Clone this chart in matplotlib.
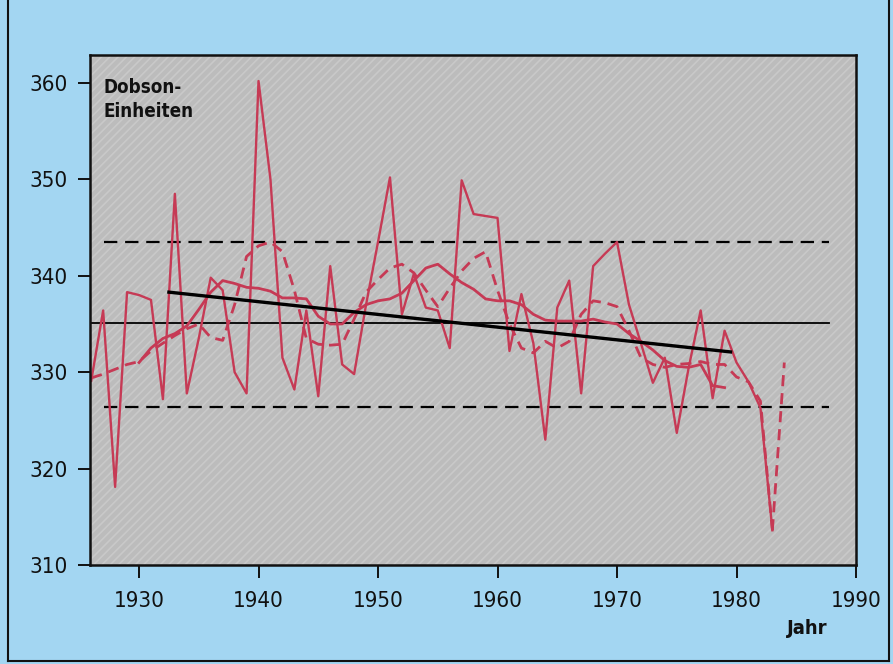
import matplotlib
matplotlib.use("Agg")
import matplotlib.pyplot as plt
from matplotlib.lines import Line2D

# Annual mean total ozone, Dobson units
years = list(range(1926, 1984))
annual = [329.1, 336.4, 318.1, 338.3, 338.0, 337.5, 327.2, 348.5, 327.8, 333.5,
          339.8, 338.5, 330.0, 327.8, 360.2, 350.0, 331.5, 328.2, 336.4, 327.5,
          341.0, 330.8, 329.8, 337.0, 343.5, 350.2, 336.0, 340.2, 336.7, 336.4,
          332.5, 349.9, 346.4, 346.2, 346.0, 332.2, 338.1, 333.0, 323.0, 336.7,
          339.5, 327.8, 341.0, 342.3, 343.5, 337.0, 333.0, 328.9, 331.5, 323.7,
          330.5, 336.4, 327.3, 334.3, 331.0, 329.0, 326.3, 313.6]

# Preliminary value after the last annual mean
prelim_years = [1983, 1984]
prelim_values = [313.6, 331.0]

# Short-term smoothed curve
short_years = list(range(1926, 1984))
short_smooth = [329.4, 329.8, 330.3, 330.8, 331.1, 332.2, 333.0, 333.8, 334.5, 335.0,
                333.6, 333.3, 337.0, 342.0, 343.1, 343.5, 342.5, 338.5, 333.5, 332.9,
                332.8, 332.9, 335.5, 338.3, 339.6, 340.8, 341.2, 340.3, 338.5, 336.8,
                338.7, 340.5, 341.8, 342.5, 338.5, 335.0, 332.5, 332.0, 333.2, 332.5,
                333.2, 336.0, 337.4, 337.2, 336.8, 334.3, 331.5, 330.8, 330.5, 330.8,
                330.9, 331.1, 330.8, 330.8, 329.5, 329.0, 327.0, 313.6]

# Long-term running mean
long_years = list(range(1930, 1980))
long_smooth = [331.0, 332.5, 333.5, 334.0, 334.8, 336.5, 338.3, 339.5, 339.2, 338.8,
               338.7, 338.4, 337.7, 337.7, 337.6, 335.8, 335.0, 335.0, 336.2, 337.0,
               337.4, 337.6, 338.2, 339.5, 340.8, 341.2, 340.2, 339.3, 338.6, 337.6,
               337.4, 337.4, 337.0, 336.0, 335.4, 335.3, 335.3, 335.3, 335.5, 335.2,
               335.0, 334.0, 333.2, 332.3, 331.2, 330.6, 330.5, 330.8, 328.6, 328.4]

# Linear trend
trend_years = [1932.5, 1979.5]
trend_values = [338.3, 332.1]

# Long-term mean and its band
mean_span = [1925.9, 1987.7]
mean_value = 335.1
band_span = [1927.1, 1987.7]
band_upper = 343.5
band_lower = 326.4

x_ticks = [1930, 1940, 1950, 1960, 1970, 1980, 1990]
y_ticks = [310, 320, 330, 340, 350, 360]

RED = "#c63a55"
BLUE = "#a3d6f2"
GREY = "#bcbcbc"

plt.rcParams["font.family"] = ["DejaVu Sans"]
plt.rcParams["font.stretch"] = "condensed"
plt.rcParams["hatch.color"] = "#c9c9c9"
plt.rcParams["hatch.linewidth"] = 1.2

fig = plt.figure(figsize=(8.93, 6.64), dpi=100)
fig.patch.set_facecolor(BLUE)
ax = fig.add_axes([0.1008, 0.1491, 0.8578, 0.7681])
ax.set_facecolor(GREY)
ax.patch.set_hatch("////")
ax.patch.set_edgecolor("#c9c9c9")

ax.set_xlim(1925.9, 1990)
ax.set_ylim(310, 362.9)

# reference lines
ax.plot(mean_span, [mean_value, mean_value], color="black", lw=1.3, zorder=2)
for v in (band_upper, band_lower):
    ax.plot(band_span, [v, v], color="black", lw=1.6, dashes=(6, 3.5), zorder=2)

# ozone curves
ax.plot(short_years, short_smooth, color=RED, lw=2.0, dashes=(4, 2.5), zorder=3)
ax.plot(long_years, long_smooth, color=RED, lw=2.0, zorder=3)
ax.plot(years, annual, color=RED, lw=1.7, zorder=4)
ax.plot(prelim_years, prelim_values, color=RED, lw=2.0, dashes=(4, 2.5), zorder=4)
ax.plot(trend_years, trend_values, color="black", lw=2.4, zorder=5)

for s in ax.spines.values():
    s.set_linewidth(1.8)
    s.set_color("#111111")
    s.set_zorder(6)

ax.set_xticks(x_ticks)
ax.set_yticks(y_ticks)
ax.tick_params(axis="x", direction="out", length=9, width=1.4, pad=10,
               labelsize=16, colors="#111111")
ax.tick_params(axis="y", direction="out", length=9, width=1.4, pad=7,
               labelsize=16, colors="#111111")

ax.text(0.018, 0.955, "Dobson-\nEinheiten", transform=ax.transAxes, ha="left", va="top",
        fontsize=13.5, fontweight="bold", linespacing=1.35, color="#111111")
fig.text(807 / 893, 1 - 628 / 664, "Jahr", ha="center", va="center",
         fontsize=14.5, fontweight="bold", color="#111111")

# page frame
for xs, ys in (([8, 8], [0, 661]), ([8, 889], [661, 661]), ([889, 889], [0, 661])):
    fig.add_artist(Line2D([x / 893 for x in xs], [1 - y / 664 for y in ys],
                          color="#111111", lw=1.5))

fig.savefig("out.png", dpi=100, facecolor=BLUE)
